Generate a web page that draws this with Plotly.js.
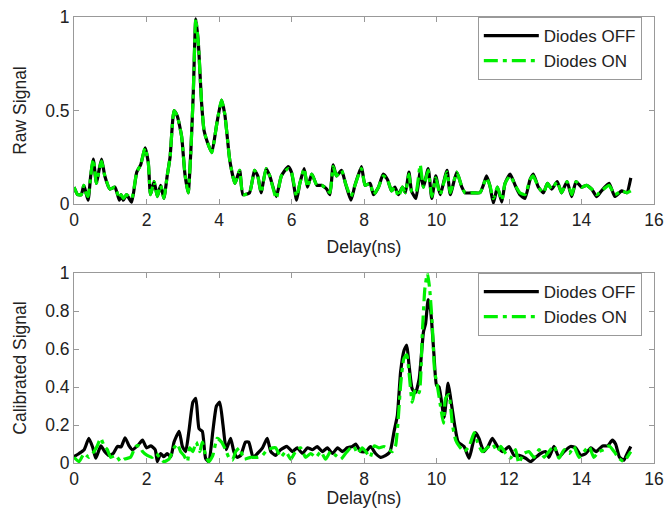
<!DOCTYPE html>
<html>
<head>
<meta charset="utf-8">
<script src="https://cdn.plot.ly/plotly-3.0.1.min.js"></script>
<style>html,body{margin:0;padding:0;background:#fff;}#chart{width:668px;height:508px;}</style>
</head>
<body>
<div id="chart"></div>
<script>
// ---- Raw signal (top panel) ----
const rawX = [0,0.1,0.2,0.27,0.33,0.39,0.46,0.53,0.62,0.69,0.76,0.85,0.99,1.13,1.25,1.3,1.36,1.45,1.59,1.73,1.84,1.96,2.05,2.11,2.21,2.30,2.39,2.48,2.57,2.65,2.76,2.85,2.97,3.06,3.15,3.22,3.29,3.36,3.43,3.52,3.59,3.68,3.80,3.94,4.07,4.16,4.30,4.44,4.57,4.66,4.84,4.98,5.07,5.16,5.30,5.40,5.58,5.72,5.91,6.0,6.14,6.23,6.35,6.44,6.56,6.70,6.83,6.97,7.06,7.15,7.24,7.38,7.49,7.64,7.75,7.93,8.03,8.17,8.26,8.40,8.53,8.65,8.76,8.85,8.95,9.06,9.14,9.24,9.31,9.43,9.55,9.64,9.77,9.87,9.98,10.1,10.29,10.38,10.56,10.70,10.79,11.02,11.2,11.29,11.38,11.47,11.57,11.68,11.80,11.89,12.03,12.17,12.30,12.44,12.58,12.67,12.81,12.95,13.06,13.18,13.33,13.45,13.60,13.73,13.85,14.0,14.14,14.28,14.42,14.55,14.76,14.92,15.11,15.25,15.36];
const rawOff = [0.09,0.05,0.05,0.10,0.06,0.02,0.15,0.24,0.11,0.18,0.24,0.15,0.08,0.09,0.02,0.05,0.02,0.05,0.01,0.17,0.21,0.30,0.22,0.05,0.12,0.04,0.10,0.03,0.15,0.25,0.50,0.47,0.36,0.16,0.06,0.27,0.59,0.99,0.86,0.54,0.39,0.33,0.275,0.43,0.555,0.48,0.23,0.11,0.18,0.05,0.06,0.18,0.15,0.06,0.19,0.15,0.04,0.15,0.20,0.17,0.02,0.11,0.19,0.09,0.16,0.10,0.10,0.08,0.05,0.21,0.15,0.18,0.11,0.02,0.10,0.20,0.10,0.11,0.05,0.09,0.16,0.13,0.07,0.09,0.05,0.09,0.06,0.17,0.07,0.03,0.17,0.09,0.19,0.03,0.15,0.05,0.18,0.05,0.17,0.09,0.06,0.06,0.06,0.10,0.15,0.10,0.005,0.09,0.01,0.11,0.16,0.10,0.05,0.03,0.13,0.16,0.09,0.06,0.11,0.08,0.12,0.06,0.12,0.04,0.12,0.09,0.10,0.08,0.04,0.07,0.11,0.04,0.07,0.06,0.14];
const rawOn  = [0.09,0.05,0.05,0.10,0.06,0.04,0.15,0.24,0.11,0.18,0.23,0.15,0.08,0.09,0.03,0.05,0.03,0.05,0.03,0.17,0.21,0.30,0.22,0.05,0.12,0.04,0.10,0.03,0.15,0.25,0.50,0.47,0.36,0.16,0.06,0.27,0.59,0.99,0.86,0.54,0.39,0.33,0.275,0.43,0.555,0.48,0.23,0.11,0.18,0.05,0.06,0.18,0.15,0.06,0.19,0.15,0.03,0.15,0.19,0.17,0.04,0.11,0.19,0.09,0.16,0.10,0.10,0.08,0.06,0.20,0.15,0.18,0.11,0.04,0.10,0.19,0.10,0.11,0.05,0.09,0.15,0.13,0.07,0.09,0.04,0.09,0.06,0.16,0.07,0.06,0.21,0.09,0.18,0.04,0.14,0.05,0.17,0.06,0.17,0.09,0.06,0.06,0.06,0.10,0.14,0.10,0.03,0.09,0.02,0.11,0.15,0.10,0.06,0.05,0.13,0.15,0.09,0.06,0.11,0.08,0.12,0.06,0.12,0.05,0.12,0.09,0.10,0.08,0.05,0.07,0.10,0.05,0.07,0.06,0.07];

// ---- Calibrated signal (bottom panel) ----
const calOffX = [0,0.14,0.28,0.41,0.52,0.60,0.74,0.85,0.96,1.08,1.20,1.30,1.41,1.52,1.61,1.75,1.89,2.00,2.12,2.24,2.30,2.39,2.48,2.57,2.67,2.76,2.90,2.99,3.08,3.17,3.28,3.36,3.45,3.54,3.63,3.72,3.83,3.93,4.02,4.11,4.20,4.32,4.41,4.50,4.60,4.73,4.82,4.94,5.06,5.20,5.33,5.43,5.56,5.70,5.88,6.02,6.16,6.30,6.44,6.58,6.71,6.85,6.99,7.13,7.27,7.40,7.54,7.68,7.77,7.91,8.05,8.18,8.32,8.46,8.60,8.72,8.83,8.92,9.01,9.10,9.18,9.24,9.33,9.42,9.52,9.64,9.70,9.77,9.84,9.93,10.0,10.07,10.21,10.32,10.39,10.50,10.60,10.76,10.90,11.08,11.17,11.31,11.43,11.54,11.68,11.82,12.0,12.14,12.28,12.46,12.6,12.74,12.87,13.01,13.10,13.24,13.38,13.52,13.70,13.84,13.98,14.12,14.26,14.40,14.58,14.72,14.85,14.94,15.05,15.17,15.26,15.36];
const calOff = [0.033,0.05,0.07,0.13,0.08,0.025,0.09,0.06,0.04,0.05,0.087,0.085,0.133,0.09,0.07,0.09,0.12,0.08,0.09,0.07,0.007,0.05,0.033,0.05,0.033,0.11,0.167,0.087,0.06,0.167,0.32,0.34,0.18,0.167,0.025,0.007,0.167,0.30,0.32,0.20,0.07,0.13,0.06,0.03,0.04,0.11,0.11,0.03,0.05,0.08,0.13,0.06,0.04,0.07,0.087,0.06,0.08,0.05,0.08,0.07,0.087,0.06,0.08,0.05,0.08,0.06,0.08,0.087,0.10,0.06,0.06,0.087,0.05,0.03,0.04,0.06,0.167,0.25,0.48,0.59,0.62,0.52,0.39,0.37,0.44,0.69,0.735,0.86,0.80,0.57,0.41,0.40,0.24,0.42,0.34,0.20,0.11,0.087,0.025,0.16,0.13,0.06,0.09,0.13,0.087,0.06,0.087,0.04,0.04,0.025,0.007,0.03,0.05,0.06,0.03,0.087,0.03,0.06,0.087,0.08,0.04,0.05,0.08,0.06,0.09,0.09,0.12,0.10,0.03,0.015,0.05,0.087];
const calOnX = [0,0.14,0.28,0.41,0.55,0.64,0.74,0.83,0.92,1.01,1.15,1.29,1.38,1.56,1.70,1.81,1.89,2.02,2.16,2.27,2.36,2.48,2.62,2.76,2.85,2.94,3.03,3.13,3.19,3.28,3.37,3.47,3.54,3.63,3.72,3.83,3.95,4.07,4.18,4.27,4.37,4.46,4.57,4.69,4.87,5.06,5.20,5.33,5.56,5.70,5.84,5.98,6.11,6.25,6.39,6.53,6.67,6.81,6.94,7.08,7.22,7.36,7.49,7.63,7.72,7.82,7.95,8.05,8.17,8.28,8.41,8.55,8.69,8.78,8.87,8.94,9.01,9.10,9.18,9.24,9.33,9.42,9.52,9.61,9.68,9.75,9.81,9.88,9.95,10.02,10.11,10.19,10.25,10.34,10.44,10.53,10.62,10.76,10.90,11.04,11.13,11.26,11.40,11.54,11.68,11.77,11.91,12.04,12.18,12.27,12.41,12.55,12.69,12.83,12.97,13.10,13.24,13.38,13.52,13.66,13.79,13.93,14.07,14.21,14.34,14.48,14.62,14.76,14.90,15.03,15.17,15.26,15.36];
const calOn = [0.03,0.007,0.05,0.03,0.06,0.09,0.13,0.09,0.07,0.03,0.04,0.007,0.02,0.03,0.087,0.09,0.06,0.04,0.03,0.05,0.03,0.007,0.02,0.08,0.10,0.06,0.04,0.007,0.08,0.06,0.11,0.06,0.11,0.04,0.007,0.04,0.13,0.11,0.07,0.03,0.015,0.06,0.08,0.02,0.03,0.03,0.04,0.07,0.08,0.03,0.06,0.02,0.06,0.08,0.03,0.05,0.03,0.06,0.02,0.06,0.04,0.02,0.05,0.08,0.087,0.05,0.08,0.06,0.03,0.09,0.08,0.087,0.07,0.06,0.09,0.22,0.41,0.55,0.57,0.48,0.32,0.39,0.37,0.69,0.92,1.0,0.92,0.74,0.48,0.41,0.30,0.21,0.34,0.36,0.20,0.12,0.09,0.06,0.087,0.16,0.11,0.06,0.08,0.10,0.06,0.087,0.05,0.025,0.07,0.0,0.05,0.06,0.03,0.07,0.03,0.06,0.09,0.025,0.07,0.05,0.087,0.03,0.06,0.087,0.03,0.06,0.07,0.09,0.06,0.025,0.007,0.03,0.06];

const xTicks = [0,2,4,6,8,10,12,14,16];
const legendNames = ['Diodes OFF','Diodes ON'];
const axisTitles = {x:'Delay(ns)', yTop:'Raw Signal', yBottom:'Calibrated Signal'};

const FONT = 'Liberation Sans, Arial, sans-serif';
const GREEN = '#00f000';
const GREEN_DASH = '14px,5px,4px,5px';
const TICK_SIZE = 17.5;
const TITLE_SIZE = 17.5;

function lineStyle(color, dash){
  const s = {color: color, width: 3.2, shape:'spline', smoothing:0.5};
  if (dash) s.dash = dash;
  return s;
}

const traces = [
  {x: rawX, y: rawOff, name: legendNames[0], type:'scatter', mode:'lines', xaxis:'x', yaxis:'y', legend:'legend',
   line: lineStyle('#000000')},
  {x: rawX, y: rawOn, name: legendNames[1], type:'scatter', mode:'lines', xaxis:'x', yaxis:'y', legend:'legend',
   line: lineStyle(GREEN, GREEN_DASH)},
  {x: calOffX, y: calOff, name: legendNames[0], type:'scatter', mode:'lines', xaxis:'x2', yaxis:'y2', legend:'legend2',
   line: lineStyle('#000000')},
  {x: calOnX, y: calOn, name: legendNames[1], type:'scatter', mode:'lines', xaxis:'x2', yaxis:'y2', legend:'legend2',
   line: lineStyle(GREEN, GREEN_DASH)}
];

function xAxis(anchor){
  return {anchor: anchor, domain:[0,1], range:[0,16], tickvals: xTicks, ticks:'inside', ticklen:5, tickcolor:'#999',
    showline:true, mirror:'ticks', linecolor:'#999', linewidth:1, showgrid:false, zeroline:false,
    tickfont:{family:FONT, size:TICK_SIZE, color:'#222'},
    title:{text: axisTitles.x, font:{family:FONT, size:TITLE_SIZE, color:'#222'}, standoff:11}, automargin:false};
}
function yAxis(anchor, domain, dtick, title){
  return {anchor: anchor, domain: domain, range:[0,1], dtick: dtick, tick0:0, ticks:'inside', ticklen:5, tickcolor:'#999',
    showline:true, mirror:'ticks', linecolor:'#999', linewidth:1, showgrid:false, zeroline:false,
    tickfont:{family:FONT, size:TICK_SIZE, color:'#222'},
    title:{text: title, font:{family:FONT, size:TITLE_SIZE, color:'#222'}, standoff:14}, automargin:false};
}

const legendStyle = (y) => ({x:0.979, xanchor:'right', y:y, yanchor:'top', bgcolor:'#ffffff', bordercolor:'#999',
  borderwidth:1, font:{family:FONT, size:17, color:'#222'}, itemwidth:55, tracegroupgap:0});

const layout = {
  width:668, height:508,
  margin:{l:74, r:14, t:17, b:45},
  paper_bgcolor:'#ffffff', plot_bgcolor:'#ffffff',
  showlegend:true,
  xaxis: xAxis('y'),
  yaxis: yAxis('x', [0.5807,1], 0.5, axisTitles.yTop),
  xaxis2: xAxis('y2'),
  yaxis2: yAxis('x2', [0,0.426], 0.2, axisTitles.yBottom),
  legend: legendStyle(1.0),
  legend2: legendStyle(0.426),
  font:{family:FONT}
};

Plotly.newPlot('chart', traces, layout, {displayModeBar:false, staticPlot:true});
</script>
</body>
</html>
